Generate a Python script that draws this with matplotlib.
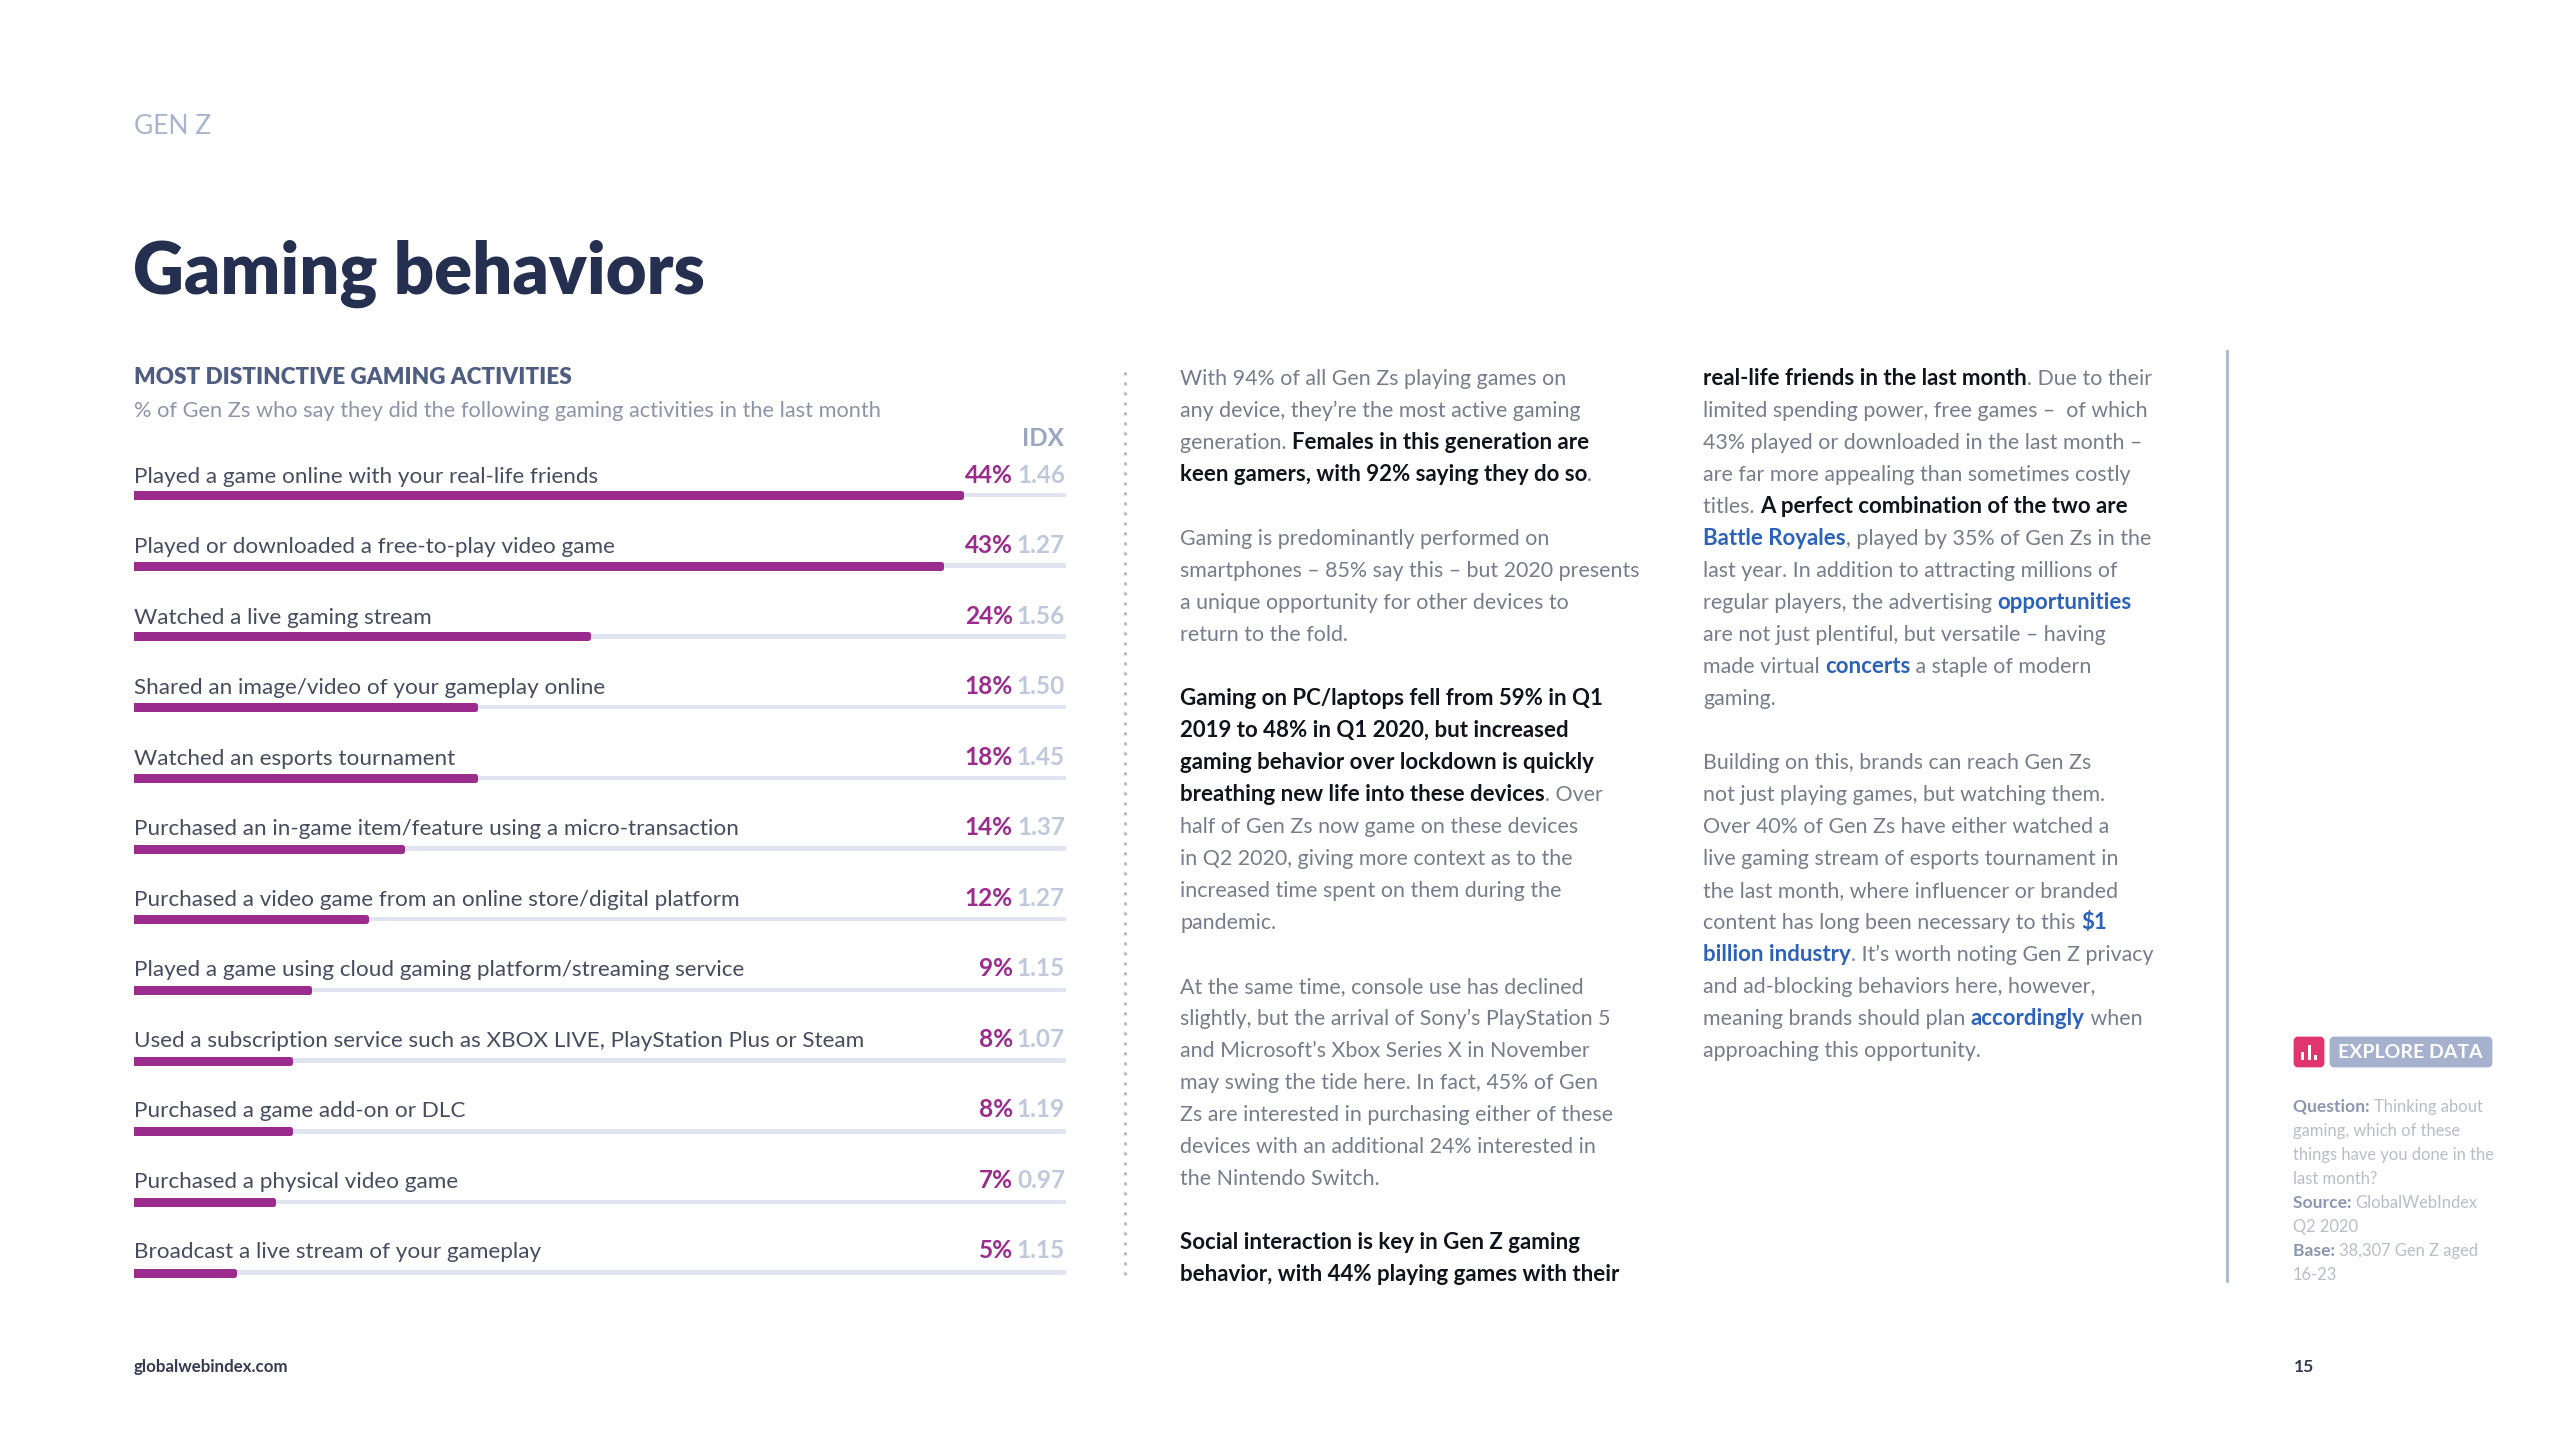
import matplotlib
matplotlib.use('Agg')
import matplotlib.pyplot as plt
from matplotlib.font_manager import FontProperties
from matplotlib.patches import FancyBboxPatch, Rectangle

W, H = 2560, 1440
FONT = 'Lato'

activities = [
    'Played a game online with your real-life friends',
    'Played or downloaded a free-to-play video game',
    'Watched a live gaming stream',
    'Shared an image/video of your gameplay online',
    'Watched an esports tournament',
    'Purchased an in-game item/feature using a micro-transaction',
    'Purchased a video game from an online store/digital platform',
    'Played a game using cloud gaming platform/streaming service',
    'Used a subscription service such as XBOX LIVE, PlayStation Plus or Steam',
    'Purchased a game add-on or DLC',
    'Purchased a physical video game',
    'Broadcast a live stream of your gameplay',
]
pct_values = [43.9, 42.8, 24.1, 18.1, 18.1, 14.2, 12.3, 9.3, 8.3, 8.3, 7.4, 5.3]
pct_labels = ['44%', '43%', '24%', '18%', '18%', '14%', '12%', '9%', '8%', '8%', '7%', '5%']
idx_labels = ['1.46', '1.27', '1.56', '1.50', '1.45', '1.37', '1.27', '1.15', '1.07', '1.19', '0.97', '1.15']

# body copy, n = regular, b = bold, l = link. None leaves a blank line
column_1 = [
    [('n', 'With 94% of all Gen Zs playing games on')],
    [('n', 'any device, they’re the most active gaming')],
    [('n', 'generation. '), ('b', 'Females in this generation are')],
    [('b', 'keen gamers, with 92% saying they do so'), ('n', '.')],
    None,
    [('n', 'Gaming is predominantly performed on')],
    [('n', 'smartphones – 85% say this – but 2020 presents')],
    [('n', 'a unique opportunity for other devices to')],
    [('n', 'return to the fold.')],
    None,
    [('b', 'Gaming on PC/laptops fell from 59% in Q1')],
    [('b', '2019 to 48% in Q1 2020, but increased')],
    [('b', 'gaming behavior over lockdown is quickly')],
    [('b', 'breathing new life into these devices'), ('n', '. Over')],
    [('n', 'half of Gen Zs now game on these devices')],
    [('n', 'in Q2 2020, giving more context as to the')],
    [('n', 'increased time spent on them during the')],
    [('n', 'pandemic.')],
    None,
    [('n', 'At the same time, console use has declined')],
    [('n', 'slightly, but the arrival of Sony’s PlayStation 5')],
    [('n', 'and Microsoft’s Xbox Series X in November')],
    [('n', 'may swing the tide here. In fact, 45% of Gen')],
    [('n', 'Zs are interested in purchasing either of these')],
    [('n', 'devices with an additional 24% interested in')],
    [('n', 'the Nintendo Switch.')],
    None,
    [('b', 'Social interaction is key in Gen Z gaming')],
    [('b', 'behavior, with 44% playing games with their')],
]
column_2 = [
    [('b', 'real-life friends in the last month'), ('n', '. Due to their')],
    [('n', 'limited spending power, free games –  of which')],
    [('n', '43% played or downloaded in the last month –')],
    [('n', 'are far more appealing than sometimes costly')],
    [('n', 'titles. '), ('b', 'A perfect combination of the two are')],
    [('l', 'Battle Royales'), ('n', ', played by 35% of Gen Zs in the')],
    [('n', 'last year. In addition to attracting millions of')],
    [('n', 'regular players, the advertising '), ('l', 'opportunities')],
    [('n', 'are not just plentiful, but versatile – having')],
    [('n', 'made virtual '), ('l', 'concerts'), ('n', ' a staple of modern')],
    [('n', 'gaming.')],
    None,
    [('n', 'Building on this, brands can reach Gen Zs')],
    [('n', 'not just playing games, but watching them.')],
    [('n', 'Over 40% of Gen Zs have either watched a')],
    [('n', 'live gaming stream of esports tournament in')],
    [('n', 'the last month, where influencer or branded')],
    [('n', 'content has long been necessary to this '), ('l', '$1')],
    [('l', 'billion industry'), ('n', '. It’s worth noting Gen Z privacy')],
    [('n', 'and ad-blocking behaviors here, however,')],
    [('n', 'meaning brands should plan '), ('l', 'accordingly'), ('n', ' when')],
    [('n', 'approaching this opportunity.')],
]
notes = [
    [('b', 'Question: '), ('n', 'Thinking about')],
    [('n', 'gaming, which of these')],
    [('n', 'things have you done in the')],
    [('n', 'last month?')],
    [('b', 'Source: '), ('n', 'GlobalWebIndex')],
    [('n', 'Q2 2020')],
    [('b', 'Base: '), ('n', '38,307 Gen Z aged')],
    [('n', '16-23')],
]

body_style = {
    'n': dict(color='#777c8a', weight='normal', fontsize=15.4),
    'b': dict(color='#10131c', weight='bold', fontsize=16),
    'l': dict(color='#2c62b9', weight='bold', fontsize=16),
}
note_style = {
    'n': dict(color='#b9bdc8', weight='normal', fontsize=11.9),
    'b': dict(color='#8b96b1', weight='bold', fontsize=12.6),
}


def px(v):
    # pixels to points at dpi 100
    return v * 0.72


fig = plt.figure(figsize=(W / 100, H / 100), dpi=100, facecolor='white')
page = fig.add_axes([0, 0, 1, 1])
page.set_xlim(0, W)
page.set_ylim(H, 0)
page.axis('off')
renderer = fig.canvas.get_renderer()


def run_width(text, size, weight):
    # measured between two x's so that trailing spaces count
    fp = FontProperties(family=FONT, size=size, weight=weight)
    w1 = renderer.get_text_width_height_descent('x' + text + 'x', fp, False)[0]
    w2 = renderer.get_text_width_height_descent('xx', fp, False)[0]
    return w1 - w2


def draw_lines(lines, x, y0, pitch, styles):
    for i, line in enumerate(lines):
        if line is None:
            continue
        cur = x
        for kind, text in line:
            st = styles[kind]
            page.text(cur, y0 + i * pitch, text, family=FONT, va='baseline', ha='left', **st)
            cur += run_width(text, st['fontsize'], st['weight'])


# header
page.text(134, 134, 'GEN Z', fontsize=19, family=FONT, color='#a9b5cc', va='baseline')
page.text(133, 294, 'Gaming behaviors', fontsize=50.8, family=FONT, weight='heavy',
          color='#252f4f', va='baseline')
page.text(134, 384, 'MOST DISTINCTIVE GAMING ACTIVITIES', fontsize=16.2, family=FONT,
          weight='heavy', color='#4f5d80', va='baseline')
page.text(134, 417, '% of Gen Zs who say they did the following gaming activities in the last month',
          fontsize=15.7, family=FONT, color='#8d94a6', va='baseline')
page.text(1064, 446, 'IDX', fontsize=17.4, family=FONT, weight='bold', color='#9aa5c0',
          ha='right', va='baseline')

# bar rows
ax = fig.add_axes([134 / W, 1 - (1272.7 + 35.35) / H, 932 / W, (777.7 + 70.7) / H])
ax.set_xlim(0, 49.45)
ax.set_ylim(len(activities) - 0.5, -0.5)
ax.axis('off')
ax.patch.set_alpha(0)
rows = list(range(len(activities)))
ax.barh(rows, [49.4] * len(rows), height=2.5 / 70.7, color='#dfe4f0', edgecolor='#dfe4f0',
        linewidth=px(2), joinstyle='round')
ax.barh(rows, pct_values, height=4 / 70.7, color='#9b2c8d', edgecolor='#9b2c8d',
        linewidth=px(5), joinstyle='round')

label_tr = ax.get_yaxis_transform()
for i in rows:
    ax.annotate(activities[i], xy=(0, i), xycoords=label_tr, xytext=(0, px(12 + i * 0.25)),
                textcoords='offset points', fontsize=16.2, family=FONT,
                color='#474c5e', va='baseline', ha='left')
    ax.annotate(pct_labels[i], xy=(1, i), xycoords=label_tr, xytext=(px(-53), px(12 + i * 0.25)),
                textcoords='offset points', fontsize=17.6, family=FONT, weight='bold',
                color='#9b2c8d', va='baseline', ha='right')
    ax.annotate(idx_labels[i], xy=(1, i), xycoords=label_tr, xytext=(px(-1), px(12 + i * 0.25)),
                textcoords='offset points', fontsize=17.6, family=FONT, weight='bold',
                color='#c0c8dc', va='baseline', ha='right')

# separators
page.plot([1125, 1125], [372, 1281], color='#a9b5cc', lw=2, ls=(0, (1, 2.6)))
page.plot([2227, 2227], [351, 1281], color='#a9b8d0', lw=2)

# article text
draw_lines(column_1, 1180, 385, 32, body_style)
draw_lines(column_2, 1703, 385, 32, body_style)

# explore data button
page.add_patch(FancyBboxPatch((2295, 1038), 28, 28, boxstyle='round,pad=0,rounding_size=3',
                              fc='#e0356e', ec='#e0356e', lw=2))
page.add_patch(FancyBboxPatch((2331, 1038), 160, 28, boxstyle='round,pad=0,rounding_size=3',
                              fc='#a5b1cd', ec='#a5b1cd', lw=2))
for bx, top in zip([2300.5, 2308, 2314], [1052, 1045, 1055]):
    page.add_patch(Rectangle((bx, top), 3, 1060 - top, fc='white', ec='none'))
page.text(2410, 1058, 'EXPLORE DATA', fontsize=14, family=FONT, weight='bold', color='white',
          ha='center', va='baseline')

# source notes
draw_lines(notes, 2293, 1112, 24, note_style)

# footer
page.text(134, 1372, 'globalwebindex.com', fontsize=12.2, family=FONT, weight='bold',
          color='#333a52', va='baseline')
page.text(2294, 1372, '15', fontsize=12.6, family=FONT, weight='bold', color='#333a52',
          va='baseline')

fig.savefig('out.png', dpi=100, facecolor='white')
plt.close(fig)
